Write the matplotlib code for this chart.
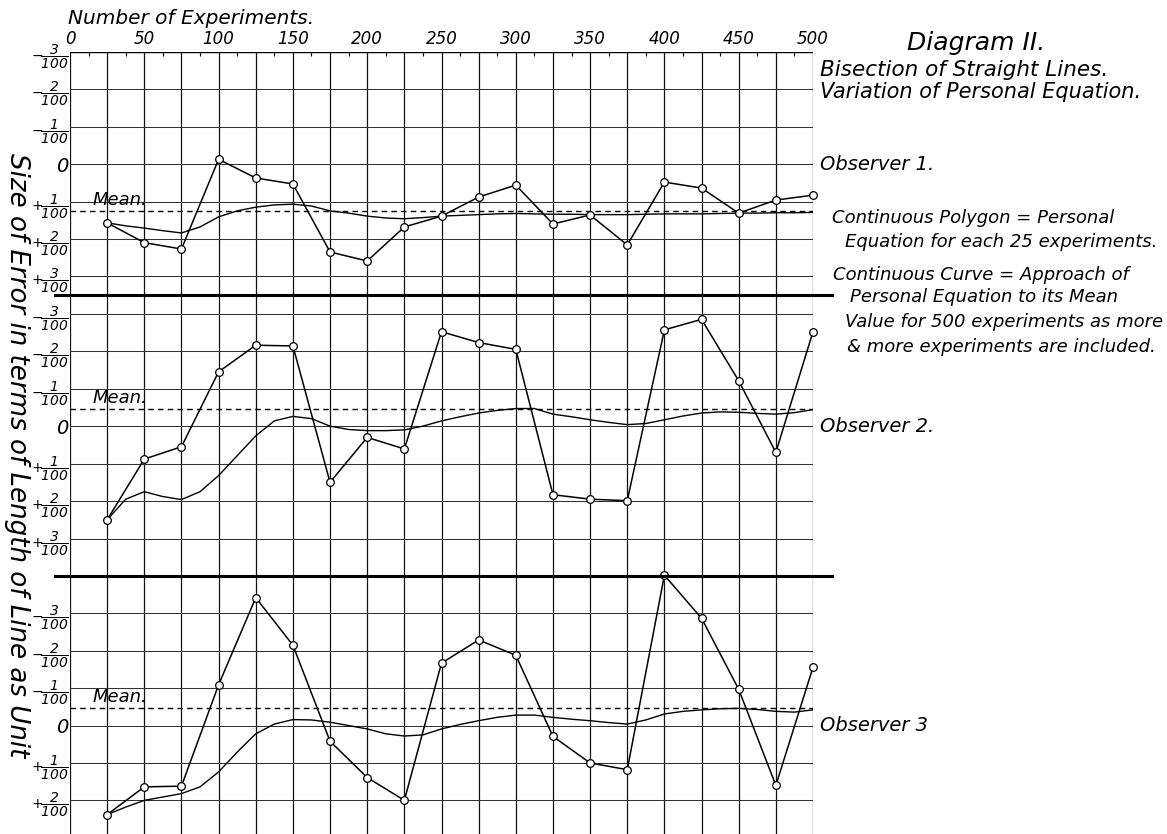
import numpy as np
import matplotlib.pyplot as plt
import matplotlib.lines as mlines

plt.rcParams['font.family'] = 'DejaVu Sans'
plt.rcParams['font.style'] = 'italic'
plt.rcParams['mathtext.default'] = 'it'

## personal equation per 25 experiments, in hundredths of the line length (+ drawn downward)
experiments = [25, 50, 75, 100, 125, 150, 175, 200, 225, 250,
               275, 300, 325, 350, 375, 400, 425, 450, 475, 500]
obs1_polygon = [1.57, 2.10, 2.27, -0.13, 0.37, 0.53, 2.35, 2.59, 1.68, 1.39,
                0.88, 0.56, 1.60, 1.36, 2.16, 0.48, 0.64, 1.31, 0.96, 0.83]
obs2_polygon = [2.50, 0.88, 0.55, -1.45, -2.16, -2.14, 1.50, 0.30, 0.61, -2.52,
                -2.23, -2.05, 1.83, 1.95, 1.99, -2.57, -2.85, -1.21, 0.70, -2.52]
obs3_polygon = [2.38, 1.64, 1.62, -1.09, -3.42, -2.15, 0.42, 1.39, 2.00, -1.67,
                -2.29, -1.88, 0.29, 1.00, 1.18, -4.02, -2.87, -0.97, 1.60, -1.56]

## approach to the mean, read every 12.5 experiments
curve_x = np.arange(25, 500.1, 12.5)
obs1_curve = [1.57, 1.65, 1.71, 1.78, 1.84, 1.68, 1.41, 1.25, 1.15, 1.09,
              1.07, 1.12, 1.25, 1.31, 1.39, 1.44, 1.46, 1.43, 1.39, 1.37,
              1.35, 1.33, 1.32, 1.33, 1.34, 1.34, 1.35, 1.35, 1.35, 1.34,
              1.33, 1.33, 1.33, 1.32, 1.31, 1.31, 1.30, 1.30, 1.29]
obs2_curve = [2.50, 1.95, 1.75, 1.88, 1.96, 1.75, 1.32, 0.79, 0.26, -0.14,
              -0.26, -0.20, 0.00, 0.09, 0.12, 0.12, 0.10, 0.00, -0.14, -0.25,
              -0.35, -0.42, -0.47, -0.47, -0.32, -0.25, -0.17, -0.10, -0.04, -0.07,
              -0.17, -0.27, -0.35, -0.38, -0.37, -0.34, -0.32, -0.36, -0.44]
obs3_curve = [2.38, 2.18, 2.00, 1.91, 1.82, 1.64, 1.24, 0.71, 0.22, -0.04,
              -0.16, -0.15, -0.09, 0.00, 0.09, 0.22, 0.28, 0.25, 0.09, -0.03,
              -0.13, -0.22, -0.28, -0.28, -0.22, -0.17, -0.13, -0.08, -0.04, -0.15,
              -0.31, -0.38, -0.42, -0.45, -0.46, -0.43, -0.38, -0.36, -0.42]

means = [1.25, -0.45, -0.46]
observer_names = ['Observer 1.', 'Observer 2.', 'Observer 3']
panel_limits = [(3.5, -3), (4, -3.5), (2.9, -4)]
panel_ticks = [[-3, -2, -1, 0, 1, 2, 3], [-3, -2, -1, 0, 1, 2, 3], [-3, -2, -1, 0, 1, 2]]
top_ticks = [0, 50, 100, 150, 200, 250, 300, 350, 400, 450, 500]

polygons = [obs1_polygon, obs2_polygon, obs3_polygon]
curves = [obs1_curve, obs2_curve, obs3_curve]

W, H = 1167, 834
def fx(p):
    return p / W
def fy(p):
    return 1 - p / H

def frac_label(v):
    if v == 0:
        return '0'
    sign = '-' if v < 0 else '+'
    return r'$%s\!\dfrac{%d}{100}$' % (sign, abs(v))

fig = plt.figure(figsize=(W / 100, H / 100), dpi=100, facecolor='white')

## pixel rows of the three panels
panel_rows = [(52, 295), (295, 576), (576, 834)]
x0, x1 = 70, 813

for i in range(3):
    top, bot = panel_rows[i]
    ax = fig.add_axes([fx(x0), fy(bot), (x1 - x0) / W, (bot - top) / H])
    ax.set_xlim(0, 500)
    ax.set_ylim(*panel_limits[i])
    for s in ax.spines.values():
        s.set_visible(False)

    for xv in range(0, 501, 25):
        ax.axvline(xv, color='#111111', lw=0.9, zorder=1)
    for yv in panel_ticks[i]:
        ax.axhline(yv, color='#333333', lw=0.75, zorder=1)

    ax.set_yticks(panel_ticks[i], [frac_label(v) for v in panel_ticks[i]])
    ax.tick_params(axis='y', length=0, pad=1, labelsize=10)
    for lab, v in zip(ax.get_yticklabels(), panel_ticks[i]):
        if v == 0:
            lab.set_fontsize(14)

    if i == 0:
        ax.xaxis.tick_top()
        ax.set_xticks(top_ticks)
        ax.set_xticks(np.arange(12.5, 500, 25), minor=True)
        ax.tick_params(axis='x', which='major', length=0, pad=3, labelsize=12)
        ax.tick_params(axis='x', which='minor', direction='in', length=3, width=0.8)
        ax.axhline(-3, color='k', lw=1.0, zorder=1)
    else:
        ax.set_xticks([])

    ax.axhline(means[i], color='k', lw=1.0, ls=(0, (4, 3)), zorder=2)
    ax.text(15, means[i] - 0.05, 'Mean.', fontsize=13, va='bottom', ha='left')

    ax.plot(curve_x, curves[i], color='k', lw=1.0, zorder=3)
    ax.plot(experiments, polygons[i], '-o', color='k', lw=1.1, ms=5.5,
            mfc='white', mec='k', mew=0.9, zorder=4, clip_on=False)

    ax.text(505, 0, observer_names[i], fontsize=14, va='center', ha='left', clip_on=False)

## heavy rules between the observers
for yrow in [295, 576]:
    fig.add_artist(mlines.Line2D([fx(55), fx(832)], [fy(yrow), fy(yrow)], color='k', lw=2.2))

fig.text(fx(68), fy(19), 'Number of Experiments.', fontsize=14.5, va='center', ha='left')
fig.text(fx(17), fy(455), 'Size of Error in terms of Length of Line as Unit',
         fontsize=18.8, rotation=270, va='center', ha='center')

fig.text(fx(907), fy(43), 'Diagram II.', fontsize=18, va='center', ha='left')
fig.text(fx(820), fy(70), 'Bisection of Straight Lines.', fontsize=15.5, va='center', ha='left')
fig.text(fx(820), fy(92), 'Variation of Personal Equation.', fontsize=15, va='center', ha='left')

notes = [(832, 218, 'Continuous Polygon = Personal'),
         (845, 242, 'Equation for each 25 experiments.'),
         (833, 275, 'Continuous Curve = Approach of'),
         (850, 297, 'Personal Equation to its Mean'),
         (845, 322, 'Value for 500 experiments as more'),
         (847, 347, '& more experiments are included.')]
for nx, ny, t in notes:
    fig.text(fx(nx), fy(ny), t, fontsize=13, va='center', ha='left')

plt.savefig('out.png', dpi=100, facecolor='white')
plt.close()
